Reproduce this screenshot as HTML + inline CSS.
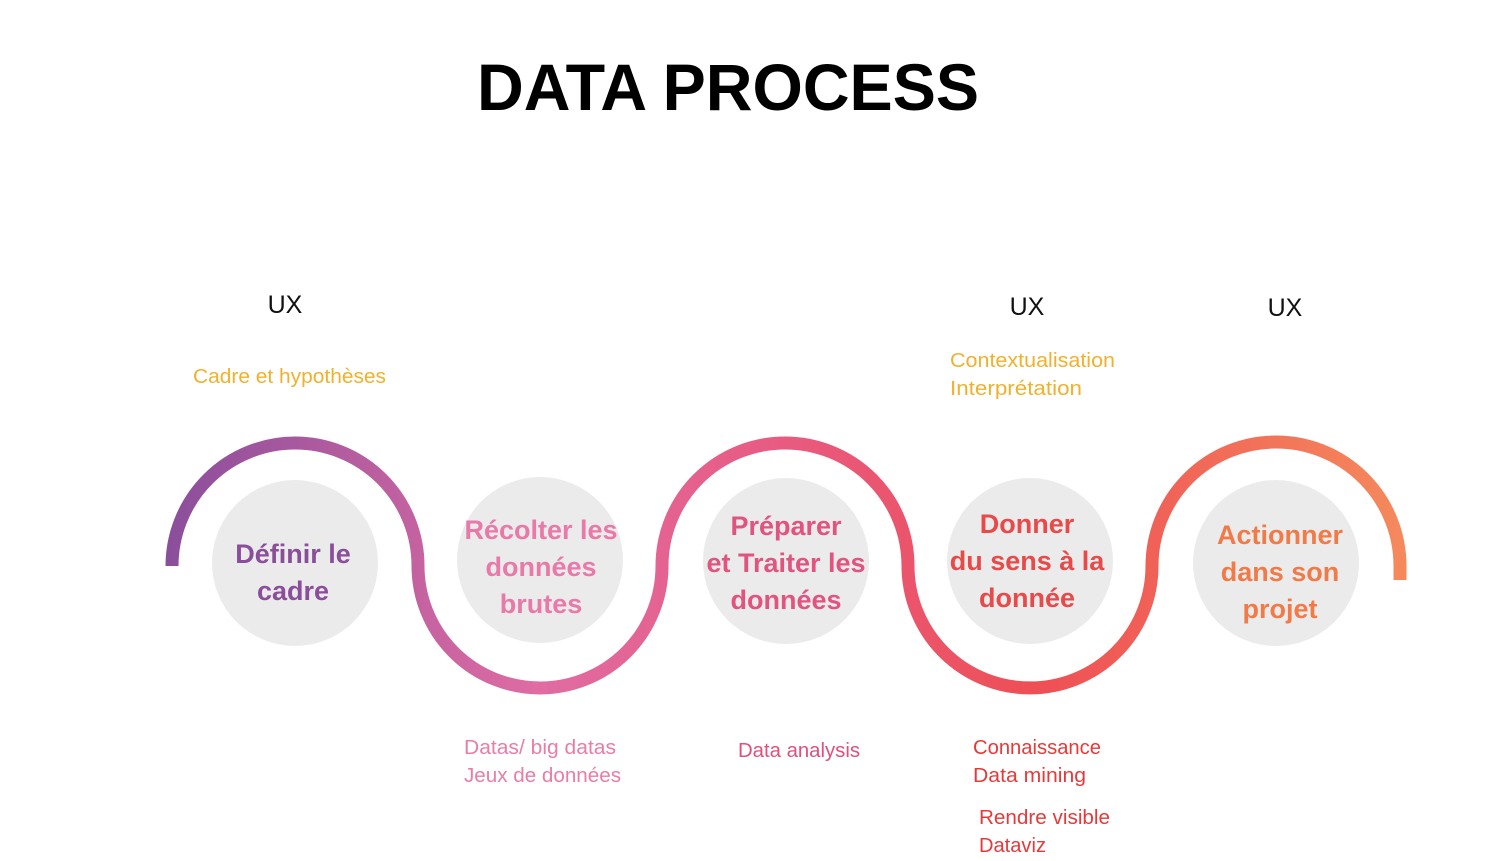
<!DOCTYPE html>
<html><head><meta charset="utf-8"><style>
html,body{margin:0;padding:0;background:#fff;}
svg{display:block;font-family:"Liberation Sans",sans-serif;}
</style></head><body>
<svg width="1500" height="861" viewBox="0 0 1500 861">
<defs>
<linearGradient id="g" x1="165" y1="0" x2="1410" y2="0" gradientUnits="userSpaceOnUse">
<stop offset="0" stop-color="#8A4E9B"/>
<stop offset="0.3" stop-color="#E06CA3"/>
<stop offset="0.5" stop-color="#E85A80"/>
<stop offset="0.7" stop-color="#EE4F55"/>
<stop offset="1" stop-color="#F58A5C"/>
</linearGradient>
</defs>
<text x="728" y="110" text-anchor="middle" font-size="66" font-weight="bold" fill="#000" textLength="502" lengthAdjust="spacingAndGlyphs">DATA PROCESS</text>

<path d="M172 566 A123 123 0 0 1 418 566 A122 122 0 0 0 662 566 A123 123 0 0 1 908 566 A122 122 0 0 0 1152 566 A124 124 0 0 1 1400 566 L1400 580" fill="none" stroke="url(#g)" stroke-width="13"/>

<g fill="#EBEBEB">
<circle cx="295" cy="563" r="83"/>
<circle cx="540" cy="560" r="83"/>
<circle cx="786" cy="561" r="83"/>
<circle cx="1030" cy="561" r="83"/>
<circle cx="1276" cy="563" r="83"/>
</g>
<g font-size="27" font-weight="bold" text-anchor="middle">
<text fill="#8A4E9B"><tspan x="293" y="563">Définir le</tspan><tspan x="293" y="600">cadre</tspan></text>
<text fill="#E879A8"><tspan x="541" y="539">Récolter les</tspan><tspan x="541" y="576">données</tspan><tspan x="541" y="613">brutes</tspan></text>
<text fill="#E25480"><tspan x="786" y="535">Préparer</tspan><tspan x="786" y="572">et Traiter les</tspan><tspan x="786" y="609">données</tspan></text>
<text fill="#E84A4A"><tspan x="1027" y="533">Donner</tspan><tspan x="1027" y="570">du sens à la</tspan><tspan x="1027" y="607">donnée</tspan></text>
<text fill="#F07B48"><tspan x="1280" y="544">Actionner</tspan><tspan x="1280" y="581">dans son</tspan><tspan x="1280" y="618">projet</tspan></text>
</g>

<g font-size="25" fill="#111" text-anchor="middle">
<text x="285" y="313">UX</text>
<text x="1027" y="315">UX</text>
<text x="1285" y="316">UX</text>
</g>
<g font-size="20" fill="#F0B12E">
<text x="193" y="383" textLength="193" lengthAdjust="spacingAndGlyphs">Cadre et hypothèses</text>
<text x="950" y="367" textLength="165" lengthAdjust="spacingAndGlyphs">Contextualisation</text>
<text x="950" y="395" textLength="132" lengthAdjust="spacingAndGlyphs">Interprétation</text>
</g>
<g font-size="20" fill="#E87DA6">
<text x="464" y="754" textLength="152" lengthAdjust="spacingAndGlyphs">Datas/ big datas</text>
<text x="464" y="782" textLength="157" lengthAdjust="spacingAndGlyphs">Jeux de données</text>
</g>
<text x="738" y="757" font-size="20" fill="#E0507A" textLength="122" lengthAdjust="spacingAndGlyphs">Data analysis</text>
<g font-size="20" fill="#E63A3A">
<text x="973" y="754" textLength="128" lengthAdjust="spacingAndGlyphs">Connaissance</text>
<text x="973" y="782" textLength="113" lengthAdjust="spacingAndGlyphs">Data mining</text>
<text x="979" y="824" textLength="131" lengthAdjust="spacingAndGlyphs">Rendre visible</text>
<text x="979" y="852" textLength="67" lengthAdjust="spacingAndGlyphs">Dataviz</text>
</g>
</svg>
</body></html>
